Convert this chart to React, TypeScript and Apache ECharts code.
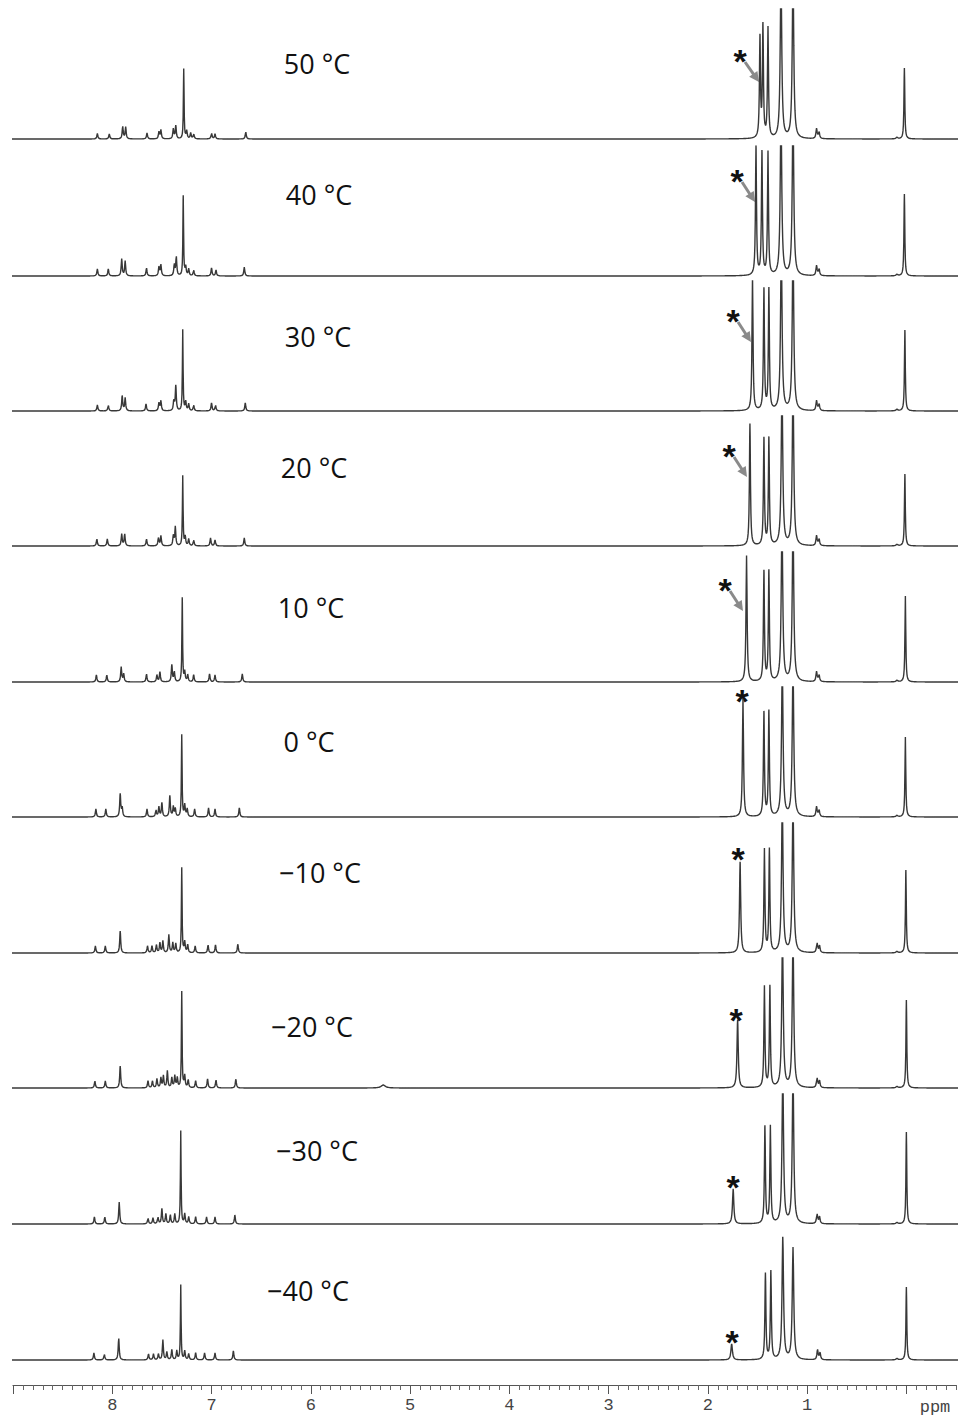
import React, { useEffect, useRef } from "react";
import * as echarts from "echarts";

// Each peak: [chemical shift (ppm), height, full width at half height (ppm)]
type Peak = [number, number, number];

const temperatureLabels = [
  "50 °C", "40 °C", "30 °C", "20 °C", "10 °C",
  "0 °C", "−10 °C", "−20 °C", "−30 °C", "−40 °C",
];

const labelledTicks = [1, 2, 3, 4, 5, 6, 7, 8];
const majorTicks = [0, 1, 2, 3, 4, 5, 6, 7, 8, 9];

const peaks50: Peak[] = [
  [8.15, 5.5, 0.012], [8.03, 5, 0.012], [7.895, 12.5, 0.012], [7.865, 12, 0.012],
  [7.65, 6, 0.012], [7.53, 7, 0.012], [7.51, 9, 0.012], [7.385, 10, 0.012],
  [7.36, 13, 0.012], [7.28, 70, 0.008], [7.25, 8, 0.012], [7.21, 6, 0.012],
  [7.18, 5, 0.012], [7.0, 6, 0.012], [6.965, 5, 0.012], [6.655, 7, 0.012],
  [1.475, 100, 0.012], [1.445, 111, 0.012], [1.394, 110, 0.012],
  [1.263, 165, 0.018], [1.142, 165, 0.018], [0.905, 10, 0.014], [0.88, 7, 0.014],
  [0.095, 1.5, 0.02], [0.02, 71, 0.01],
];

const peaks40: Peak[] = [
  [8.15, 7, 0.012], [8.04, 7, 0.012], [7.905, 17, 0.012], [7.87, 15, 0.012],
  [7.655, 8, 0.012], [7.53, 9, 0.012], [7.51, 11, 0.012], [7.375, 11, 0.012],
  [7.355, 19, 0.012], [7.285, 80, 0.008], [7.26, 9, 0.012], [7.23, 7, 0.012],
  [7.18, 6, 0.012], [7.0, 8, 0.012], [6.955, 6, 0.012], [6.67, 9, 0.012],
  [1.515, 129, 0.012], [1.455, 123, 0.012], [1.394, 123, 0.012],
  [1.263, 165, 0.018], [1.142, 165, 0.018], [0.905, 10, 0.014], [0.88, 7, 0.014],
  [0.095, 1.5, 0.02], [0.02, 82, 0.01],
];

const peaks30: Peak[] = [
  [8.15, 6, 0.012], [8.04, 6, 0.012], [7.9, 15, 0.012], [7.87, 13, 0.012],
  [7.66, 7, 0.012], [7.53, 8, 0.012], [7.51, 10, 0.012], [7.38, 10, 0.012],
  [7.36, 25, 0.012], [7.29, 81, 0.008], [7.26, 9, 0.012], [7.23, 7, 0.012],
  [7.18, 6, 0.012], [7.0, 8, 0.012], [6.96, 6, 0.012], [6.66, 8, 0.012],
  [1.55, 135, 0.012], [1.435, 121, 0.012], [1.385, 121, 0.012],
  [1.26, 165, 0.018], [1.142, 165, 0.018], [0.905, 10, 0.014], [0.88, 7, 0.014],
  [0.095, 1.5, 0.02], [0.015, 81, 0.01],
];

const peaks20: Peak[] = [
  [8.155, 7, 0.012], [8.05, 7, 0.012], [7.905, 12, 0.012], [7.875, 12, 0.012],
  [7.655, 7, 0.012], [7.535, 8, 0.012], [7.51, 10, 0.012], [7.385, 10, 0.012],
  [7.365, 19, 0.012], [7.29, 70, 0.008], [7.265, 9, 0.012], [7.23, 7, 0.012],
  [7.18, 6, 0.012], [7.01, 8, 0.012], [6.965, 6, 0.012], [6.67, 8, 0.012],
  [1.576, 122, 0.012], [1.435, 107, 0.012], [1.385, 107, 0.012],
  [1.253, 160, 0.018], [1.142, 160, 0.018], [0.905, 10, 0.014], [0.88, 7, 0.014],
  [0.095, 1.5, 0.02], [0.015, 72, 0.01],
];

const peaks10: Peak[] = [
  [8.16, 7, 0.012], [8.055, 7, 0.012], [7.91, 15, 0.012], [7.885, 8, 0.012],
  [7.655, 8, 0.012], [7.55, 7, 0.012], [7.52, 10, 0.012], [7.4, 17, 0.012],
  [7.375, 10, 0.012], [7.295, 84, 0.008], [7.27, 10, 0.012], [7.24, 7, 0.012],
  [7.18, 7, 0.012], [7.02, 8, 0.012], [6.965, 7, 0.012], [6.69, 8, 0.012],
  [1.61, 126, 0.013], [1.435, 110, 0.012], [1.385, 110, 0.012],
  [1.253, 160, 0.018], [1.142, 160, 0.018], [0.905, 10, 0.014], [0.88, 7, 0.014],
  [0.095, 1.5, 0.02], [0.01, 86, 0.01],
];

const peaks0: Peak[] = [
  [8.165, 8, 0.012], [8.065, 8, 0.012], [7.92, 23, 0.012], [7.9, 9, 0.012],
  [7.65, 8, 0.012], [7.56, 7, 0.012], [7.53, 10, 0.012], [7.5, 14, 0.012],
  [7.42, 21, 0.012], [7.385, 10, 0.012], [7.365, 8, 0.012], [7.3, 82, 0.008],
  [7.27, 12, 0.012], [7.245, 8, 0.012], [7.17, 8, 0.012], [7.03, 9, 0.012],
  [6.965, 8, 0.012], [6.72, 9, 0.012],
  [1.646, 118, 0.013], [1.435, 104, 0.012], [1.385, 105, 0.012],
  [1.25, 150, 0.018], [1.142, 150, 0.018], [0.905, 10, 0.014], [0.88, 7, 0.014],
  [0.095, 1.5, 0.02], [0.01, 80, 0.01],
];

const peaksM10: Peak[] = [
  [8.17, 7, 0.012], [8.07, 7, 0.012], [7.92, 22, 0.012], [7.645, 7, 0.012],
  [7.6, 7, 0.012], [7.555, 8, 0.012], [7.52, 10, 0.012], [7.49, 12, 0.012],
  [7.43, 18, 0.012], [7.39, 10, 0.012], [7.36, 9, 0.012], [7.3, 85, 0.008],
  [7.27, 11, 0.012], [7.24, 8, 0.012], [7.165, 7, 0.012], [7.035, 8, 0.012],
  [6.96, 8, 0.012], [6.735, 9, 0.012],
  [1.675, 91, 0.014], [1.43, 103, 0.012], [1.38, 103, 0.012],
  [1.25, 150, 0.018], [1.142, 150, 0.018], [0.9, 10, 0.014], [0.875, 7, 0.014],
  [0.095, 1.5, 0.02], [0.005, 83, 0.01],
];

const peaksM20: Peak[] = [
  [8.175, 7, 0.012], [8.07, 7, 0.012], [7.92, 22, 0.012], [7.64, 7, 0.012],
  [7.595, 7, 0.012], [7.55, 9, 0.012], [7.51, 10, 0.012], [7.485, 12, 0.012],
  [7.445, 17, 0.012], [7.4, 10, 0.012], [7.37, 12, 0.012], [7.345, 10, 0.012],
  [7.3, 96, 0.008], [7.27, 12, 0.012], [7.235, 8, 0.012], [7.16, 7, 0.012],
  [7.04, 9, 0.012], [6.955, 8, 0.012], [6.755, 9, 0.012], [5.27, 3, 0.05],
  [1.7, 68, 0.015], [1.43, 101, 0.012], [1.375, 101, 0.012],
  [1.248, 150, 0.018], [1.142, 150, 0.018], [0.9, 10, 0.014], [0.875, 7, 0.014],
  [0.095, 1.5, 0.02], [0.0, 88, 0.01],
];

const peaksM30: Peak[] = [
  [8.18, 7, 0.012], [8.075, 7, 0.012], [7.93, 22, 0.012], [7.64, 6, 0.012],
  [7.59, 6, 0.012], [7.54, 7, 0.012], [7.5, 15, 0.012], [7.46, 10, 0.012],
  [7.415, 9, 0.012], [7.37, 10, 0.012], [7.31, 93, 0.008], [7.27, 10, 0.012],
  [7.23, 7, 0.012], [7.16, 7, 0.012], [7.05, 7, 0.012], [6.965, 7, 0.012],
  [6.765, 9, 0.012],
  [1.745, 35, 0.016], [1.425, 97, 0.012], [1.37, 97, 0.012],
  [1.245, 150, 0.018], [1.142, 150, 0.018], [0.9, 10, 0.014], [0.875, 7, 0.014],
  [0.095, 1.5, 0.02], [0.0, 92, 0.01],
];

const peaksM40: Peak[] = [
  [8.185, 7, 0.012], [8.08, 6, 0.012], [7.935, 22, 0.012], [7.635, 6, 0.012],
  [7.585, 6, 0.012], [7.535, 6, 0.012], [7.49, 20, 0.012], [7.45, 8, 0.012],
  [7.4, 10, 0.012], [7.35, 9, 0.012], [7.31, 75, 0.008], [7.27, 9, 0.012],
  [7.23, 6, 0.012], [7.16, 7, 0.012], [7.07, 7, 0.012], [6.965, 7, 0.012],
  [6.78, 9, 0.012],
  [1.76, 16, 0.018], [1.42, 86, 0.012], [1.365, 88, 0.012],
  [1.245, 122, 0.018], [1.142, 112, 0.018], [0.895, 10, 0.014], [0.87, 7, 0.014],
  [0.095, 1.5, 0.02], [0.0, 73, 0.01],
];

const spectra: Peak[][] = [
  peaks50, peaks40, peaks30, peaks20, peaks10,
  peaks0, peaksM10, peaksM20, peaksM30, peaksM40,
];

// ---- layout (pixels) ----
const WIDTH = 958;
const HEIGHT = 1418;
const PLOT_LEFT = 13;
const PLOT_RIGHT = 2;
const AXIS_MIN = -0.5;
const AXIS_MAX = 9;
const PANEL_HEIGHT = 130;
const baselines = [139, 276, 411, 546, 682, 817, 953, 1088, 1224, 1360];
const AXIS_Y = 1385;

const labelAnchors: [number, number][] = [
  [317, 63], [319, 194], [318, 336], [314, 467], [311, 607],
  [309, 741], [320, 872], [312, 1026], [317, 1150], [308, 1290],
];
const starAnchors: [number, number][] = [
  [740, 53], [737, 173], [733, 313], [729, 448], [725, 582],
  [742, 693], [738, 851], [736, 1012], [733, 1179], [732, 1334],
];
const arrowSegments: [number, number, number, number][] = [
  [745, 62, 759, 82], [742, 182, 755, 202], [738, 322, 751, 342],
  [734, 457, 747, 477], [730, 591, 743, 611],
];

const TRACE_LEFT = 9.03;
const TRACE_RIGHT = -0.55;
const STEP = 0.004;

function lorentzSum(peaks: Peak[], x: number): number {
  let s = 0;
  for (const [c, h, w] of peaks) {
    const d = (x - c) / (w / 2);
    s += h / (1 + d * d);
  }
  return s;
}

function buildTrace(peaks: Peak[]): [number, number][] {
  const xs: number[] = [];
  const n = Math.round((TRACE_LEFT - TRACE_RIGHT) / STEP);
  for (let i = 0; i <= n; i++) xs.push(TRACE_RIGHT + i * STEP);
  for (const p of peaks) xs.push(p[0]);
  xs.sort((a, b) => a - b);
  return xs.map((x) => [x, lorentzSum(peaks, x)]);
}

// minor tick positions every 0.1 ppm across the scale
function minorTickValues(): number[] {
  const out: number[] = [];
  for (let k = Math.ceil(AXIS_MIN * 10); k <= Math.floor(AXIS_MAX * 10); k++) {
    if (k % 10 !== 0) out.push(k / 10);
  }
  return out;
}

function arrowGraphics(seg: [number, number, number, number]) {
  const [x1, y1, x2, y2] = seg;
  const dx = x2 - x1;
  const dy = y2 - y1;
  const len = Math.hypot(dx, dy);
  const ux = dx / len;
  const uy = dy / len;
  const head = 10;
  const half = 5;
  const bx = x2 - ux * head;
  const by = y2 - uy * head;
  const color = "#8a8a8a";
  return [
    {
      type: "line",
      shape: { x1, y1, x2: bx + ux, y2: by + uy },
      style: { stroke: color, lineWidth: 3 },
      silent: true,
    },
    {
      type: "polygon",
      shape: {
        points: [
          [x2, y2],
          [bx - uy * half, by + ux * half],
          [bx + uy * half, by - ux * half],
        ],
      },
      style: { fill: color },
      silent: true,
    },
  ];
}

export default function App() {
  const ref = useRef<HTMLDivElement>(null);

  useEffect(() => {
    if (!ref.current) return;
    const chart = echarts.init(ref.current, undefined, { renderer: "svg" });

    const grids: any[] = [];
    const xAxes: any[] = [];
    const yAxes: any[] = [];
    const series: any[] = [];

    spectra.forEach((peaks, i) => {
      grids.push({
        left: PLOT_LEFT,
        right: PLOT_RIGHT,
        top: baselines[i] - PANEL_HEIGHT,
        height: PANEL_HEIGHT + 2,
      });
      xAxes.push({
        type: "value",
        gridIndex: i,
        min: AXIS_MIN,
        max: AXIS_MAX,
        inverse: true,
        show: false,
      });
      yAxes.push({
        type: "value",
        gridIndex: i,
        min: -2,
        max: PANEL_HEIGHT,
        show: false,
      });
      series.push({
        type: "line",
        xAxisIndex: i,
        yAxisIndex: i,
        data: buildTrace(peaks),
        showSymbol: false,
        symbol: "none",
        clip: true,
        silent: true,
        lineStyle: { color: "#383838", width: 1.4 },
      });
    });

    // shared ppm scale at the bottom: one axis for major ticks + labels, one for minor ticks
    const axisGrid = spectra.length;
    grids.push({ left: PLOT_LEFT, right: PLOT_RIGHT, top: AXIS_Y - 1, height: 1 });
    xAxes.push({
      type: "value",
      gridIndex: axisGrid,
      min: AXIS_MIN,
      max: AXIS_MAX,
      inverse: true,
      axisLine: { show: true, lineStyle: { color: "#555", width: 1.2 } },
      axisTick: {
        show: true,
        length: 9,
        customValues: majorTicks,
        lineStyle: { color: "#555", width: 1 },
      },
      splitLine: { show: false },
      axisLabel: {
        margin: 12,
        color: "#444",
        fontFamily: "Liberation Mono",
        fontSize: 17,
        customValues: labelledTicks,
      },
    });
    xAxes.push({
      type: "value",
      gridIndex: axisGrid,
      min: AXIS_MIN,
      max: AXIS_MAX,
      inverse: true,
      position: "bottom",
      axisLine: { show: false },
      axisTick: {
        show: true,
        length: 5,
        customValues: minorTickValues(),
        lineStyle: { color: "#666", width: 1 },
      },
      splitLine: { show: false },
      axisLabel: { show: false },
    });
    yAxes.push({ type: "value", gridIndex: axisGrid, min: 0, max: 1, show: false });

    const graphic: any[] = [];
    temperatureLabels.forEach((t, i) => {
      graphic.push({
        type: "text",
        x: labelAnchors[i][0],
        y: labelAnchors[i][1],
        silent: true,
        style: {
          text: t,
          fill: "#111",
          font: '27px "Open Sans"',
          textAlign: "center",
          textVerticalAlign: "middle",
        },
      });
    });
    starAnchors.forEach(([x, y]) => {
      graphic.push({
        type: "text",
        x,
        y: y + 8,
        silent: true,
        style: {
          text: "*",
          fill: "#111",
          font: 'bold 34px "Liberation Sans"',
          textAlign: "center",
          textVerticalAlign: "middle",
        },
      });
    });
    arrowSegments.forEach((seg) => graphic.push(...arrowGraphics(seg)));
    graphic.push({
      type: "text",
      x: 935,
      y: 1407,
      silent: true,
      style: {
        text: "ppm",
        fill: "#444",
        font: '17px "Liberation Mono"',
        textAlign: "center",
        textVerticalAlign: "middle",
      },
    });

    chart.setOption({
      animation: false,
      backgroundColor: "#ffffff",
      grid: grids,
      xAxis: xAxes,
      yAxis: yAxes,
      series,
      graphic,
    });

    return () => chart.dispose();
  }, []);

  return (
    <div
      ref={ref}
      style={{ position: "absolute", left: 0, top: 0, width: WIDTH, height: HEIGHT }}
    />
  );
}
